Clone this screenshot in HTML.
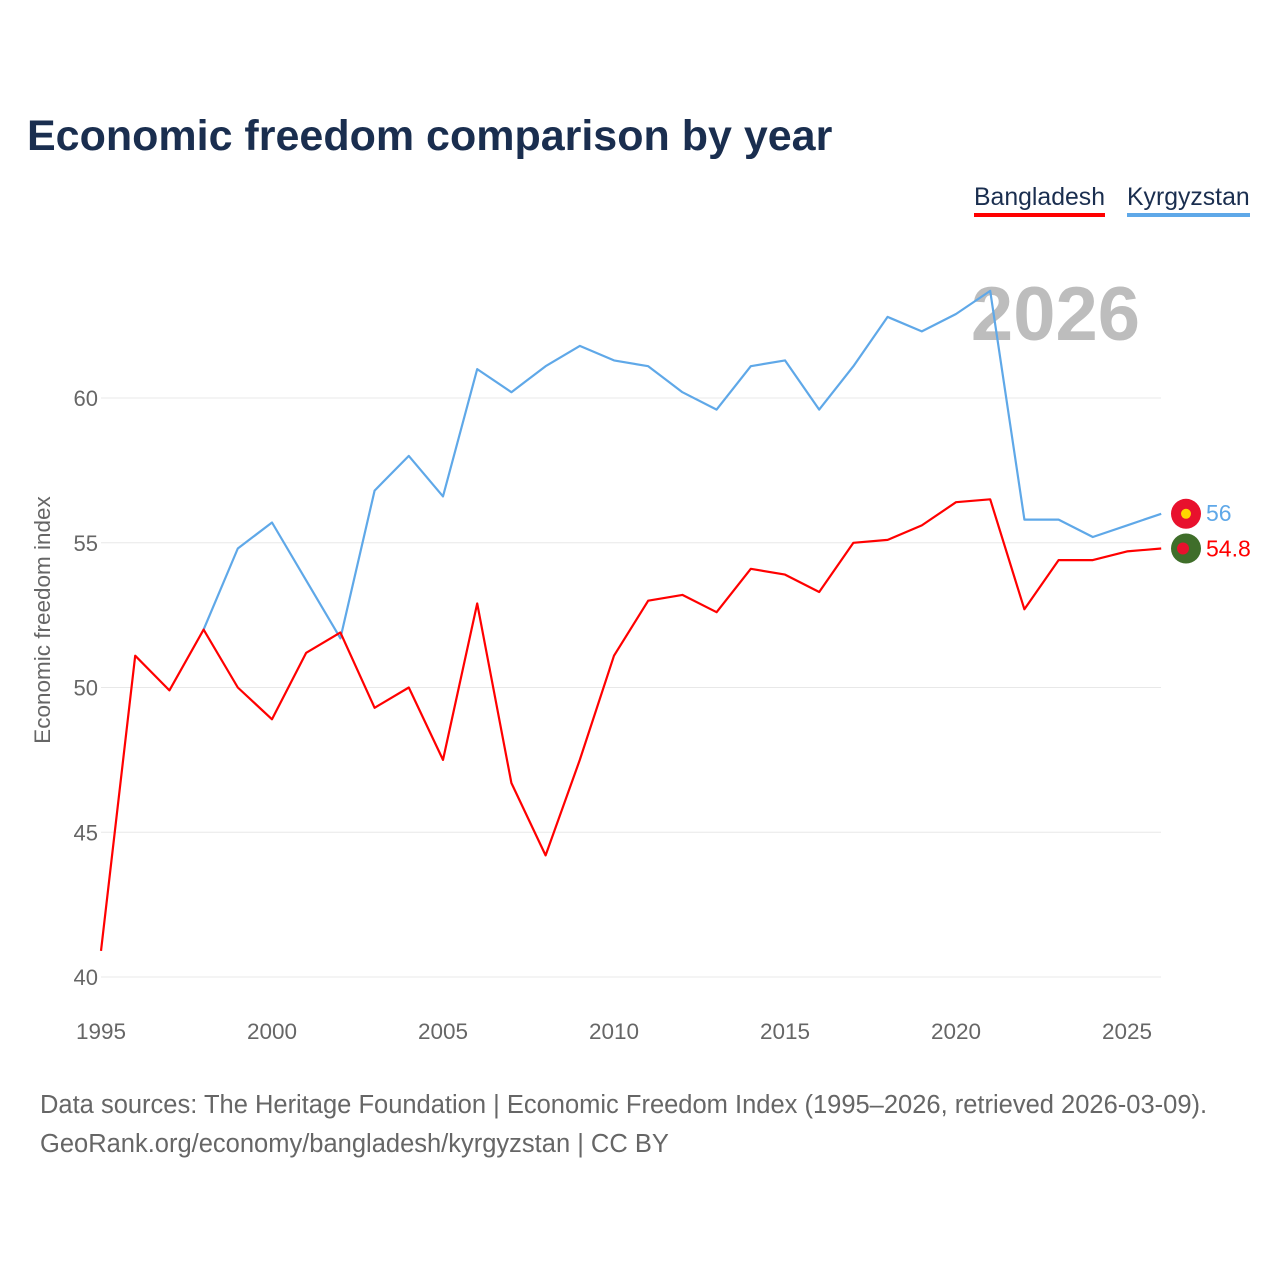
<!DOCTYPE html>
<html><head><meta charset="utf-8">
<style>
html,body{margin:0;padding:0;background:#fff;}
body{width:1280px;height:1280px;position:relative;font-family:"Liberation Sans",sans-serif;overflow:hidden;}
#title{position:absolute;left:27px;top:112px;font-size:43px;font-weight:bold;color:#1a2e4f;}
.leg{position:absolute;top:184px;font-size:24.8px;color:#1a2e4f;padding-bottom:1px;}
#src{position:absolute;left:40px;top:1086px;font-size:25.5px;color:#666;line-height:39px;}
</style></head><body>
<div id="title">Economic freedom comparison by year</div>
<div class="leg" style="left:974px;border-bottom:4px solid #ff0000;">Bangladesh</div>
<div class="leg" style="left:1127px;border-bottom:4px solid #5fa8e8;">Kyrgyzstan</div>
<svg id="chart" width="1280" height="1280" style="position:absolute;left:0;top:0"></svg>
<div id="src">Data sources: The Heritage Foundation | Economic Freedom Index (1995–2026, retrieved 2026-03-09).<br>GeoRank.org/economy/bangladesh/kyrgyzstan | CC BY</div>
<script>
const years = [1995,1996,1997,1998,1999,2000,2001,2002,2003,2004,2005,2006,2007,2008,2009,2010,2011,2012,2013,2014,2015,2016,2017,2018,2019,2020,2021,2022,2023,2024,2025,2026];
const bangladesh = [40.9,51.1,49.9,52.0,50.0,48.9,51.2,51.9,49.3,50.0,47.5,52.9,46.7,44.2,47.5,51.1,53.0,53.2,52.6,54.1,53.9,53.3,55.0,55.1,55.6,56.4,56.5,52.7,54.4,54.4,54.7,54.8];
const kyrgyzstan = [null,null,null,52.0,54.8,55.7,53.7,51.7,56.8,58.0,56.6,61.0,60.2,61.1,61.8,61.3,61.1,60.2,59.6,61.1,61.3,59.6,61.1,62.8,62.3,62.9,63.7,55.8,55.8,55.2,55.6,56.0];
const yTicks = [40,45,50,55,60];
const xTicks = [1995,2000,2005,2010,2015,2020,2025];

const NS="http://www.w3.org/2000/svg";
const svg=document.getElementById('chart');
const x=v=>101+(v-1995)*(1026/30);
const y=v=>977-(v-40)*(579/20);
function mk(t,a,txt){const e=document.createElementNS(NS,t);for(const k in a)e.setAttribute(k,a[k]);if(txt!==undefined)e.textContent=txt;svg.appendChild(e);return e;}

yTicks.forEach(t=>{
  const g=mk('line',{x1:101,x2:1161,y1:y(t),y2:y(t),stroke:'#e8e8e8','stroke-width':1});
  
  
  const l=mk('text',{x:98,y:y(t)+8,'text-anchor':'end','font-size':22,fill:'#666'},t);
  
  
});
xTicks.forEach(t=>{
  const l=mk('text',{x:x(t),y:1039,'text-anchor':'middle','font-size':22.5,fill:'#666'},t);
  
  
});
const yt=mk('text',{x:0,y:0,transform:'translate(50,620) rotate(-90)','text-anchor':'middle','font-size':22.5,fill:'#666'},'Economic freedom index');



const yr=mk('text',{x:1140,y:340,'text-anchor':'end','font-size':76,'font-weight':'bold',fill:'#bdbdbd'},'2026');



function path(vals){let d='';vals.forEach((v,i)=>{if(v==null)return;d+=(d?'L':'M')+x(years[i]).toFixed(1)+','+y(v).toFixed(1);});return d;}
const pk=mk('path',{d:path(kyrgyzstan),fill:'none',stroke:'#5fa8e8','stroke-width':2.2,'stroke-linejoin':'round'});


const pb=mk('path',{d:path(bangladesh),fill:'none',stroke:'#ff0000','stroke-width':2.2,'stroke-linejoin':'round'});



const lk=kyrgyzstan[kyrgyzstan.length-1], lb=bangladesh[bangladesh.length-1];
const fk=mk('circle',{cx:1186,cy:y(lk),r:15,fill:'#e8112d'});


const fk2=mk('circle',{cx:1186,cy:y(lk),r:5,fill:'#ffd700'});


const fb=mk('circle',{cx:1186,cy:y(lb),r:15,fill:'#3f6e2a'});


const fb2=mk('circle',{cx:1183,cy:y(lb),r:6,fill:'#e8112d'});


const vk=mk('text',{x:1206,y:y(lk)+7,'font-size':23,fill:'#5fa8e8'},String(lk));


const vb=mk('text',{x:1206,y:y(lb)+8,'font-size':23,fill:'#ff0000'},String(lb));


</script>
</body></html>
